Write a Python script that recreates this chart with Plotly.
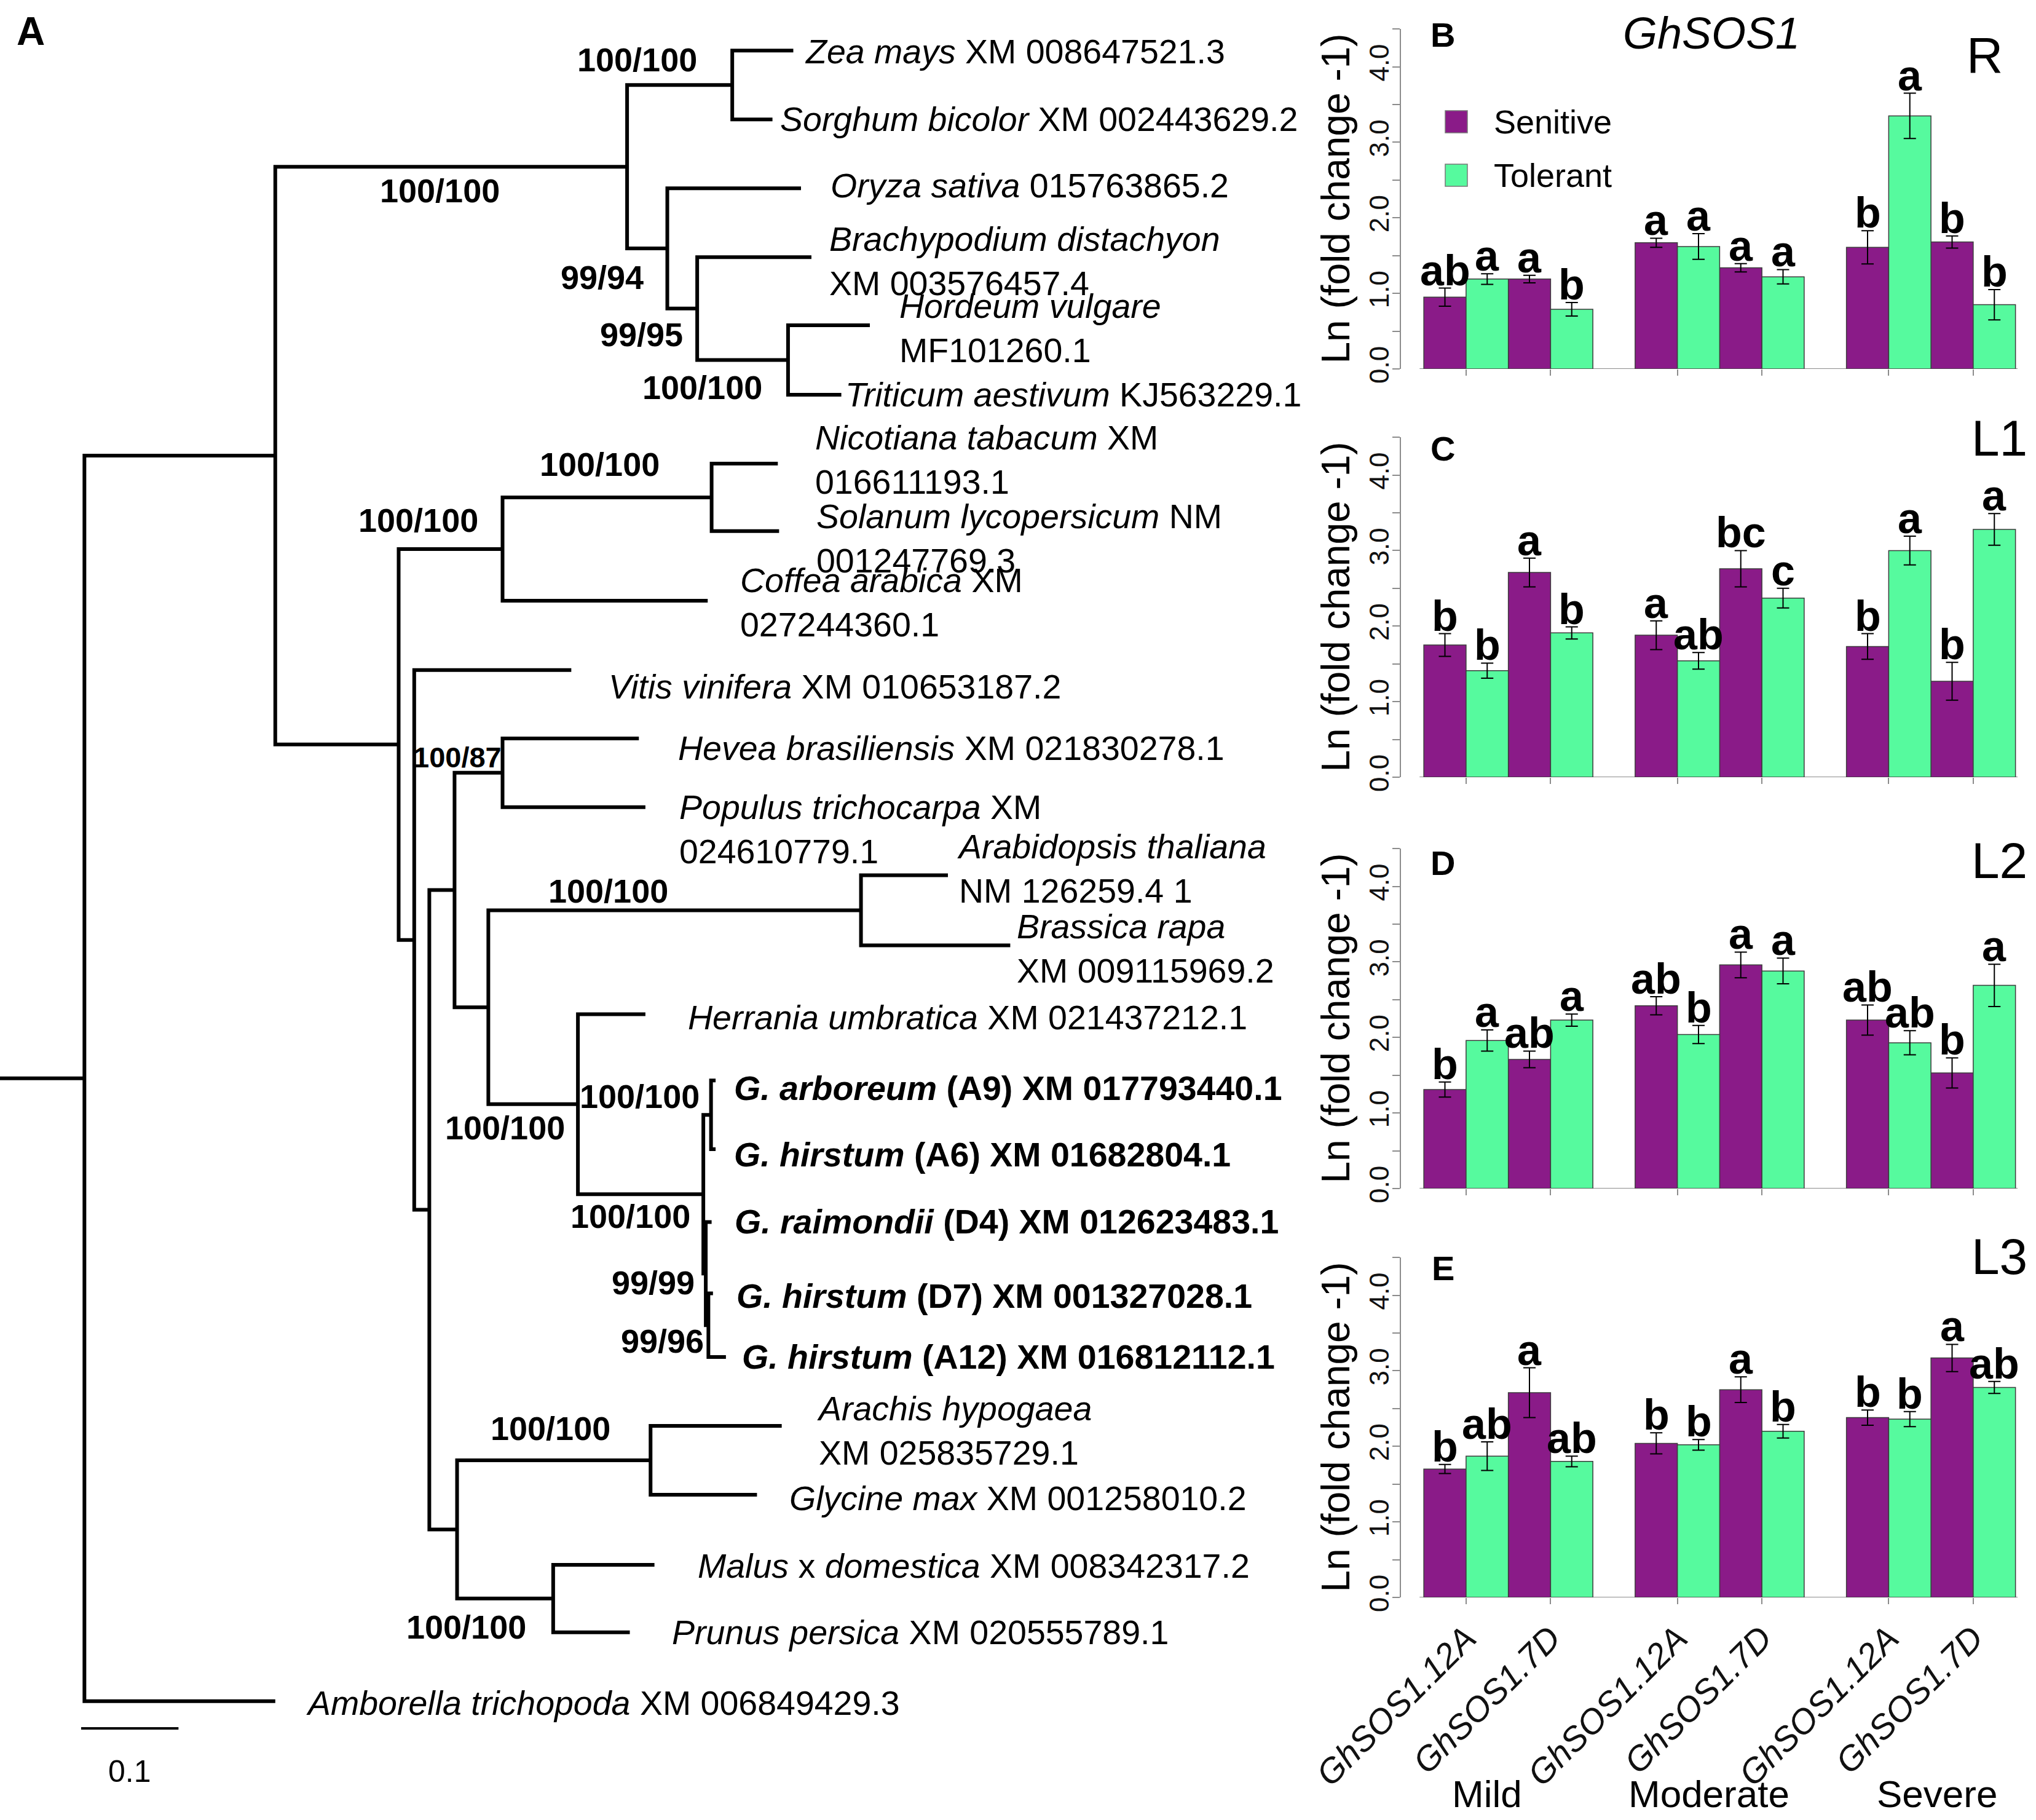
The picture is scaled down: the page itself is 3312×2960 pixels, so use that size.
import plotly.graph_objects as go

# ------------------------------------------------------------------ DATA
# Phylogenetic tree (Newick, branch lengths in substitutions/site)
tree_newick = (
    "((((Zea:0.0627,Sorghum:0.0413)ZS:0.108,(Oryza:0.1373,(Brachy:0.1173,"
    "(Hordeum:0.084,Triticum:0.0547)HT:0.0933)BHT:0.0307)OB:0.0413)M:0.3613,"
    "(((Nicotiana:0.068,Solanum:0.0693)Sol:0.2147,Coffea:0.2107)Ast:0.1067,"
    "(Vitis:0.1613,(((Hevea:0.14,Populus:0.1467)HP:0.0493,"
    "((Arabidopsis:0.0893,Brassica:0.1533)Bra:0.3827,(Herrania:0.0693,"
    "((Garb:0.0047,GA6:0.0047)GA:0.0079,(Grai:0.006,(GD7:0.0047,GA12:0.018)GD:0.0027)GX:0.0025)Gos:0.1288"
    ")Mal:0.092)E4:0.0347)E3:0.0259,((Arachis:0.1347,Glycine:0.1093)Fab:0.1987,"
    "(Malus:0.104,Prunus:0.0787)Ros:0.0987)FR:0.0285)E2:0.0155)E1:0.016)Di:0.1267)N1:0.196,"
    "Amborella:0.196)R:0.0867;"
)

# tip row positions (tree layout units, top to bottom)
tip_rows = {
    "Zea": 39, "Sorghum": 92, "Oryza": 145, "Brachy": 198, "Hordeum": 250.5,
    "Triticum": 304, "Nicotiana": 357, "Solanum": 409, "Coffea": 462.6,
    "Vitis": 516, "Hevea": 568.6, "Populus": 621.6, "Arabidopsis": 674,
    "Brassica": 728, "Herrania": 781, "Garb": 832, "GA6": 885, "Grai": 941,
    "GD7": 996, "GA12": 1045, "Arachis": 1098, "Glycine": 1151,
    "Malus": 1205, "Prunus": 1257, "Amborella": 1310,
}

tip_labels = {
    "Zea": "<i>Zea mays</i> XM 008647521.3",
    "Sorghum": "<i>Sorghum bicolor</i> XM 002443629.2",
    "Oryza": "<i>Oryza sativa</i> 015763865.2",
    "Brachy": "<i>Brachypodium distachyon</i><br>XM 003576457.4",
    "Hordeum": "<i>Hordeum vulgare</i><br>MF101260.1",
    "Triticum": "<i>Triticum aestivum</i> KJ563229.1",
    "Nicotiana": "<i>Nicotiana tabacum</i> XM<br>016611193.1",
    "Solanum": "<i>Solanum lycopersicum</i> NM<br>001247769.3",
    "Coffea": "<i>Coffea arabica</i> XM<br>027244360.1",
    "Vitis": "<i>Vitis vinifera</i> XM 010653187.2",
    "Hevea": "<i>Hevea brasiliensis</i> XM 021830278.1",
    "Populus": "<i>Populus trichocarpa</i> XM<br>024610779.1",
    "Arabidopsis": "<i>Arabidopsis thaliana</i><br>NM 126259.4 1",
    "Brassica": "<i>Brassica rapa</i><br>XM 009115969.2",
    "Herrania": "<i>Herrania umbratica</i> XM 021437212.1",
    "Garb": "<b><i>G. arboreum</i> (A9) XM 017793440.1</b>",
    "GA6": "<b><i>G. hirstum</i> (A6) XM 01682804.1</b>",
    "Grai": "<b><i>G. raimondii</i> (D4) XM 012623483.1</b>",
    "GD7": "<b><i>G. hirstum</i> (D7) XM 001327028.1</b>",
    "GA12": "<b><i>G. hirstum</i> (A12) XM 016812112.1</b>",
    "Arachis": "<i>Arachis hypogaea</i><br>XM 025835729.1",
    "Glycine": "<i>Glycine max</i> XM 001258010.2",
    "Malus": "<i>Malus</i> x <i>domestica</i> XM 008342317.2",
    "Prunus": "<i>Prunus persica</i> XM 020555789.1",
    "Amborella": "<i>Amborella trichopoda</i> XM 006849429.3",
}

support = {
    "ZS": "100/100", "M": "100/100", "OB": "99/94", "BHT": "99/95", "HT": "100/100",
    "Sol": "100/100", "Ast": "100/100", "HP": "100/87", "Bra": "100/100",
    "Mal": "100/100", "GA": "100/100", "Gos": "100/100", "GX": "99/99",
    "GD": "99/96", "Fab": "100/100", "Ros": "100/100",
}
scale_bar_length = 0.1

# Expression data
levels = ["Mild", "Moderate", "Severe"]
genes = ["GhSOS1.12A", "GhSOS1.7D"]
tissues = ["R", "L1", "L2", "L3"]
panel_letters = ["B", "C", "D", "E"]

# order: Mild-12A, Mild-7D, Moderate-12A, Moderate-7D, Severe-12A, Severe-7D
sens_vals = {
    "R":  [0.95, 1.19, 1.67, 1.34, 1.61, 1.68],
    "L1": [1.75, 2.71, 1.88, 2.76, 1.73, 1.27],
    "L2": [1.31, 1.71, 2.42, 2.96, 2.23, 1.53],
    "L3": [1.70, 2.71, 2.04, 2.75, 2.38, 3.17],
}
sens_err = {
    "R":  [0.12, 0.05, 0.06, 0.055, 0.22, 0.08],
    "L1": [0.15, 0.19, 0.19, 0.24, 0.17, 0.25],
    "L2": [0.10, 0.11, 0.12, 0.17, 0.20, 0.20],
    "L3": [0.06, 0.33, 0.14, 0.17, 0.10, 0.18],
}
tol_vals = {
    "R":  [1.19, 0.79, 1.62, 1.22, 3.35, 0.85],
    "L1": [1.41, 1.91, 1.54, 2.37, 3.00, 3.28],
    "L2": [1.96, 2.23, 2.04, 2.88, 1.93, 2.69],
    "L3": [1.87, 1.80, 2.02, 2.20, 2.36, 2.78],
}
tol_err = {
    "R":  [0.07, 0.09, 0.17, 0.095, 0.30, 0.20],
    "L1": [0.10, 0.08, 0.11, 0.13, 0.19, 0.21],
    "L2": [0.14, 0.08, 0.12, 0.17, 0.16, 0.28],
    "L3": [0.19, 0.07, 0.07, 0.09, 0.10, 0.08],
}
sens_let = {
    "R":  ["ab", "a", "a", "a", "b", "b"],
    "L1": ["b", "a", "a", "bc", "b", "b"],
    "L2": ["b", "ab", "ab", "a", "ab", "b"],
    "L3": ["b", "a", "b", "a", "b", "a"],
}
tol_let = {
    "R":  ["a", "b", "a", "a", "a", "b"],
    "L1": ["b", "b", "ab", "c", "a", "a"],
    "L2": ["a", "a", "b", "a", "ab", "a"],
    "L3": ["ab", "ab", "b", "b", "b", "ab"],
}
series_names = ["Senitive", "Tolerant"]

# ------------------------------------------------------------------ STYLE / LAYOUT
W, H = 3312, 2960
FONT = "Liberation Sans, Arial, sans-serif"
PURPLE = "#8a1b88"
GREEN = "#56fa9e"
S = 2.112  # tree layout unit -> pixel

# label offsets (tree layout units): gap right of tip, vertical shift
tip_gap = {"Zea": 8, "Sorghum": 5, "Oryza": 22, "Brachy": 13, "Hordeum": 22, "Triticum": 2,
           "Nicotiana": 28, "Solanum": 28, "Coffea": 24, "Vitis": 28, "Hevea": 29,
           "Populus": 25, "Arabidopsis": 6, "Brassica": 4, "Herrania": 32, "Garb": 13,
           "GA6": 13, "Grai": 17, "GD7": 17, "GA12": 11.5, "Arachis": 26, "Glycine": 24,
           "Malus": 32.5, "Prunus": 31.6, "Amborella": 23}
tip_dy = {"Zea": 1, "Sorghum": 0, "Oryza": -2, "Brachy": 3, "Hordeum": 2.5, "Triticum": 0,
          "Nicotiana": -3, "Solanum": 6, "Coffea": 1.4, "Vitis": 13, "Hevea": 7.4,
          "Populus": 17, "Arabidopsis": -5, "Brassica": 2.5, "Herrania": 2.6, "Garb": 6,
          "GA6": 4, "Grai": 0, "GD7": 2, "GA12": 0, "Arachis": 4, "Glycine": 3,
          "Malus": 1, "Prunus": 0, "Amborella": 1.6}
sup_off = {"ZS": (-73, -19.5), "M": (-144, 18.6), "OB": (-50, 22), "BHT": (-43, 20),
           "HT": (-66, 21), "Sol": (-86, -25.5), "Ast": (-65, -22), "HP": (-35, -12),
           "Bra": (-194.5, -15), "Mal": (-56, 18), "GA": (-55, -14.5), "Gos": (-56, 17),
           "GX": (-40.5, 7), "GD": (-35.5, 12), "Fab": (-77, -24.5), "Ros": (-67, 22)}


# ------------------------------------------------------------------ TREE
def parse_newick(s):
    pos = 0

    def node():
        nonlocal pos
        children = []
        if s[pos] == "(":
            pos += 1
            while True:
                children.append(node())
                if s[pos] == ",":
                    pos += 1
                    continue
                if s[pos] == ")":
                    pos += 1
                    break
        start = pos
        while s[pos] not in ":,();":
            pos += 1
        name = s[start:pos]
        length = 0.0
        if s[pos] == ":":
            pos += 1
            start = pos
            while s[pos] not in ",();":
                pos += 1
            length = float(s[start:pos])
        return {"name": name, "len": length, "children": children}

    return node()


root = parse_newick(tree_newick)


def layout_tree(n, px):
    n["x"] = px + n["len"]
    for c in n["children"]:
        layout_tree(c, n["x"])
    if n["children"]:
        n["y"] = (n["children"][0]["y"] + n["children"][-1]["y"]) / 2
    else:
        n["y"] = tip_rows[n["name"]]


layout_tree(root, 0.0)

tx, ty = [0.0, root["x"], None], [root["y"], root["y"], None]
nodes_all = []


def collect(n):
    nodes_all.append(n)
    ch = n["children"]
    if ch:
        c1, c2 = ch[0], ch[-1]
        tx.extend([c1["x"], n["x"], n["x"], c2["x"], None])
        ty.extend([c1["y"], c1["y"], c2["y"], c2["y"], None])
        for c in ch[1:-1]:
            tx.extend([n["x"], c["x"], None])
            ty.extend([c["y"], c["y"], None])
        for c in ch:
            collect(c)


collect(root)

fig = go.Figure()
fig.add_trace(go.Scatter(x=tx, y=ty, mode="lines", line=dict(color="black", width=6),
                         hoverinfo="skip", showlegend=False, xaxis="x", yaxis="y"))

# scale bar
sb_x0 = 0.0833
sb_y = 1331
fig.add_trace(go.Scatter(x=[sb_x0, sb_x0 + scale_bar_length], y=[sb_y, sb_y], mode="lines",
                         line=dict(color="black", width=4), showlegend=False,
                         hoverinfo="skip", xaxis="x", yaxis="y"))

annotations = []
annotations.append(dict(x=sb_x0 + scale_bar_length / 2, y=1364, xref="x", yref="y",
                        text=str(scale_bar_length), showarrow=False,
                        font=dict(family=FONT, size=50, color="black")))

for n in nodes_all:
    if not n["children"]:
        annotations.append(dict(
            x=n["x"], y=n["y"], xref="x", yref="y", text=tip_labels[n["name"]],
            showarrow=False, xanchor="left", yanchor="middle", align="left",
            xshift=tip_gap[n["name"]] * S, yshift=-tip_dy[n["name"]] * S,
            font=dict(family=FONT, size=55.5, color="black")))
    elif n["name"] in support:
        dx, dy = sup_off[n["name"]]
        txt = support[n["name"]]
        annotations.append(dict(
            x=n["x"], y=n["y"], xref="x", yref="y", text="<b>%s</b>" % txt,
            showarrow=False, xanchor="center", yanchor="middle",
            xshift=dx * S, yshift=-dy * S,
            font=dict(family=FONT, size=47 if txt == "100/87" else 54, color="black")))

annotations.append(dict(x=49.5 / W, y=1 - 51 / H, xref="paper", yref="paper", text="<b>A</b>",
                        showarrow=False, xanchor="center", yanchor="middle",
                        font=dict(family=FONT, size=64, color="black")))

# ------------------------------------------------------------------ BAR PANELS
bottoms_px = [600, 1264, 1933, 2598]
unit_px = 122.85
x_left_px = 2279
bar_px = 68.75
x_range = [-0.54, 14.2]
x_dom = [x_left_px / W, (x_left_px + (x_range[1] - x_range[0]) * bar_px) / W]

n_lv, n_g = len(levels), len(genes)
pos_sens = [lv * 5 + g * 2 + 0.5 for lv in range(n_lv) for g in range(n_g)]
pos_tol = [lv * 5 + g * 2 + 1.5 for lv in range(n_lv) for g in range(n_g)]
gene_ticks = [lv * 5 + g * 2 + 1 for lv in range(n_lv) for g in range(n_g)]
gene_text = [genes[g] for lv in range(n_lv) for g in range(n_g)]
tag_ypx = [89, 712, 1399, 2043]
letter_ypx = [57, 730, 1404, 2062]

layout_axes = {}
shapes = []
for i, tis in enumerate(tissues):
    xa, ya = "x%d" % (i + 2), "y%d" % (i + 2)
    bot = bottoms_px[i]
    top = bot - 4.5 * unit_px
    ydom = [1 - bot / H, 1 - top / H]
    for vals, errs, lets, pos, col, nm in [
        (sens_vals[tis], sens_err[tis], sens_let[tis], pos_sens, PURPLE, series_names[0]),
        (tol_vals[tis], tol_err[tis], tol_let[tis], pos_tol, GREEN, series_names[1]),
    ]:
        fig.add_trace(go.Bar(
            x=pos, y=vals, width=1, name=nm, showlegend=False,
            marker=dict(color=col, line=dict(color="#3c3c3c", width=1.5)),
            error_y=dict(type="data", array=errs, color="black", thickness=2, width=10),
            xaxis=xa, yaxis=ya))
        for p, v, e, l in zip(pos, vals, errs, lets):
            annotations.append(dict(x=p, y=v + e, xref=xa, yref=ya, text="<b>%s</b>" % l,
                                    showarrow=False, xanchor="center", yanchor="bottom",
                                    yshift=-12,
                                    font=dict(family=FONT, size=70, color="black")))
    shapes.append(dict(type="line", xref=xa, yref=ya, x0=-0.1, x1=14.05, y0=0, y1=0,
                       line=dict(color="#8c8c8c", width=2), layer="below"))
    layout_axes["xaxis%d" % (i + 2)] = dict(
        domain=x_dom, range=x_range, anchor=ya, showline=False, showgrid=False,
        zeroline=False, ticks="outside", tickvals=gene_ticks, ticktext=gene_text,
        showticklabels=(i == len(tissues) - 1), ticklen=10, tickwidth=2, tickcolor="#8c8c8c",
        tickangle=-45, automargin=False,
        tickfont=dict(family=FONT, size=56, style="italic", color="#111"))
    ytv = [k * 0.5 for k in range(10)]
    layout_axes["yaxis%d" % (i + 2)] = dict(
        domain=ydom, range=[0, 4.5], anchor=xa, showline=True, linecolor="#8c8c8c",
        linewidth=2, ticks="outside", ticklen=12, tickwidth=2, tickcolor="#8c8c8c",
        tickvals=ytv, ticktext=["%.1f" % v if v == int(v) else "" for v in ytv],
        tickangle=-90, tickfont=dict(family=FONT, size=44, color="#111"),
        ticklabelstandoff=-12,
        showgrid=False, zeroline=False, automargin=False)
    # y title
    annotations.append(dict(x=2173 / W, y=1 - (bot + top) / 2 / H, xref="paper", yref="paper",
                            text="Ln (fold change -1)", textangle=-90, showarrow=False,
                            xanchor="center", yanchor="middle",
                            font=dict(family=FONT, size=64, color="black")))
    # panel letter
    annotations.append(dict(x=2347 / W, y=1 - letter_ypx[i] / H, xref="paper", yref="paper",
                            text="<b>%s</b>" % panel_letters[i], showarrow=False,
                            xanchor="center", yanchor="middle",
                            font=dict(family=FONT, size=56, color="black")))
    # tissue tag
    if i == 0:
        annotations.append(dict(x=3228 / W, y=1 - tag_ypx[i] / H, xref="paper", yref="paper",
                                text=tis, showarrow=False, xanchor="center", yanchor="middle",
                                font=dict(family=FONT, size=82, color="black")))
    else:
        annotations.append(dict(x=3300 / W, y=1 - tag_ypx[i] / H, xref="paper", yref="paper",
                                text=tis, showarrow=False, xanchor="right", yanchor="middle",
                                font=dict(family=FONT, size=82, color="black")))

# level labels under last panel
lvl_shift = [-35, -17, 10]
for lv, name in enumerate(levels):
    annotations.append(dict(x=lv * 5 + 2, y=1 - 2917 / H, xref="x5", yref="paper", text=name,
                            showarrow=False, xanchor="center", yanchor="middle",
                            xshift=lvl_shift[lv],
                            font=dict(family=FONT, size=62, color="black")))

# title
annotations.append(dict(x=2784 / W, y=1 - 54 / H, xref="paper", yref="paper",
                        text="<i>GhSOS1</i>", showarrow=False, xanchor="center",
                        yanchor="middle", font=dict(family=FONT, size=72, color="black")))

# legend (manual)
for k, (nm, col) in enumerate(zip(series_names, [PURPLE, GREEN])):
    yc = [198, 285][k]
    shapes.append(dict(type="rect", xref="paper", yref="paper",
                       x0=2351 / W, x1=2387 / W, y0=1 - (yc + 18) / H, y1=1 - (yc - 18) / H,
                       fillcolor=col, line=dict(color="#777", width=1.5)))
    annotations.append(dict(x=2428 / W, y=1 - yc / H, xref="paper", yref="paper", text=nm,
                            showarrow=False, xanchor="left", yanchor="middle",
                            font=dict(family=FONT, size=54, color="black")))

tree_dom_px = 2186
fig.update_layout(
    width=W, height=H, margin=dict(l=0, r=0, t=0, b=0, pad=0, autoexpand=False),
    paper_bgcolor="white", plot_bgcolor="white",
    barmode="overlay", showlegend=False,
    font=dict(family=FONT, color="black"),
    xaxis=dict(domain=[0, tree_dom_px / W], range=[0, tree_dom_px / (750 * S)],
               visible=False, anchor="y", automargin=False),
    yaxis=dict(domain=[0, 1], range=[H / S, 0], visible=False, anchor="x", automargin=False),
    annotations=annotations, shapes=shapes,
    **layout_axes,
)

fig.write_html(
    "out.html",
    config={"displayModeBar": False},
    post_script="document.body.style.margin='0px';document.body.style.padding='0px';"
                "document.body.style.overflow='hidden';",
)
